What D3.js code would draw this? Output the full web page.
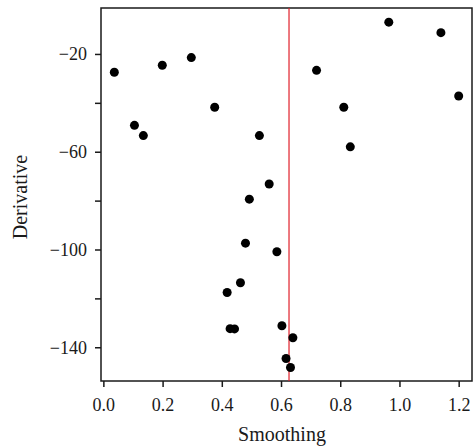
<!DOCTYPE html>
<html>
<head>
<meta charset="utf-8">
<script src="https://cdn.jsdelivr.net/npm/d3@7"></script>
<style>
  body { margin: 0; background: #fff; }
  text { font-family: "Liberation Serif", "DejaVu Serif", serif; }
</style>
</head>
<body>
<svg id="chart" width="473" height="447"></svg>
<script>
// smoothing values (x) and derivative values (y)
var smoothing = [0.037, 0.105, 0.135, 0.199, 0.297, 0.376, 0.964, 1.140, 0.720, 1.200,
                 0.812, 0.527, 0.834, 0.560, 0.493, 0.480, 0.586, 0.463, 0.418, 0.428,
                 0.443, 0.603, 0.640, 0.617, 0.632];
var derivative = [-27.5, -49.2, -53.4, -24.6, -21.5, -41.8, -7.0, -11.3, -26.7, -37.2,
                  -41.8, -53.4, -58.0, -73.2, -79.4, -97.4, -100.9, -113.6, -117.6, -132.4,
                  -132.5, -131.2, -136.1, -144.6, -148.3];
var cutoff = 0.627;
var xTicks = [0, 0.2, 0.4, 0.6, 0.8, 1.0, 1.2];
var yTicks = [-20, -40, -60, -80, -100, -120, -140];
var yLabelled = [-20, -60, -100, -140];

var points = smoothing.map(function(d, i) { return {x: d, y: derivative[i]}; });

var pLeft = 101, pRight = 472, pTop = 8, pBottom = 381;

var svg = d3.select("#chart");

var xScale = d3.scaleLinear()
               .domain([-0.008, 1.245])
               .range([pLeft, pRight]);
var yScale = d3.scaleLinear()
               .domain([-1.2, -153.8])
               .range([pTop, pBottom]);

// frame
svg.append("rect")
   .attr("x", pLeft)
   .attr("y", pTop)
   .attr("width", pRight - pLeft)
   .attr("height", pBottom - pTop)
   .attr("fill", "none")
   .attr("stroke", "#1a1a1a")
   .attr("stroke-width", 1.5);

var xAxis = svg.append("g")
   .attr("transform", "translate(0," + pBottom + ")")
   .call(d3.axisBottom(xScale)
           .tickValues(xTicks)
           .tickFormat(d3.format(".1f"))
           .tickSize(6)
           .tickPadding(11));

var yAxis = svg.append("g")
   .attr("transform", "translate(" + pLeft + ",0)")
   .call(d3.axisLeft(yScale)
           .tickValues(yTicks)
           .tickFormat(function(d) { return yLabelled.indexOf(d) >= 0 ? d3.format("d")(d) : ""; })
           .tickSize(6)
           .tickPadding(8));

[xAxis, yAxis].forEach(function(g) {
  g.select(".domain").remove();
  g.selectAll(".tick line").attr("stroke", "#1a1a1a").attr("stroke-width", 1.5);
  g.selectAll(".tick text")
   .attr("fill", "#1a1a1a")
   .style("font-family", "'Liberation Serif', serif")
   .style("font-size", "18px");
});

// cutoff line
svg.append("line")
   .attr("x1", xScale(cutoff))
   .attr("x2", xScale(cutoff))
   .attr("y1", pTop)
   .attr("y2", pBottom)
   .attr("stroke", "#e0202a")
   .attr("stroke-width", 1.2);

svg.append("g")
   .selectAll("circle")
   .data(points)
   .enter()
   .append("circle")
   .attr("cx", function(d) { return xScale(d.x); })
   .attr("cy", function(d) { return yScale(d.y); })
   .attr("r", 4.5)
   .attr("fill", "#000");

svg.append("text")
   .attr("x", 282)
   .attr("y", 441)
   .attr("text-anchor", "middle")
   .style("font-size", "20px")
   .attr("fill", "#1a1a1a")
   .text("Smoothing");

svg.append("text")
   .attr("transform", "translate(27,197) rotate(-90)")
   .attr("text-anchor", "middle")
   .style("font-size", "20px")
   .attr("fill", "#1a1a1a")
   .text("Derivative");
</script>
</body>
</html>
